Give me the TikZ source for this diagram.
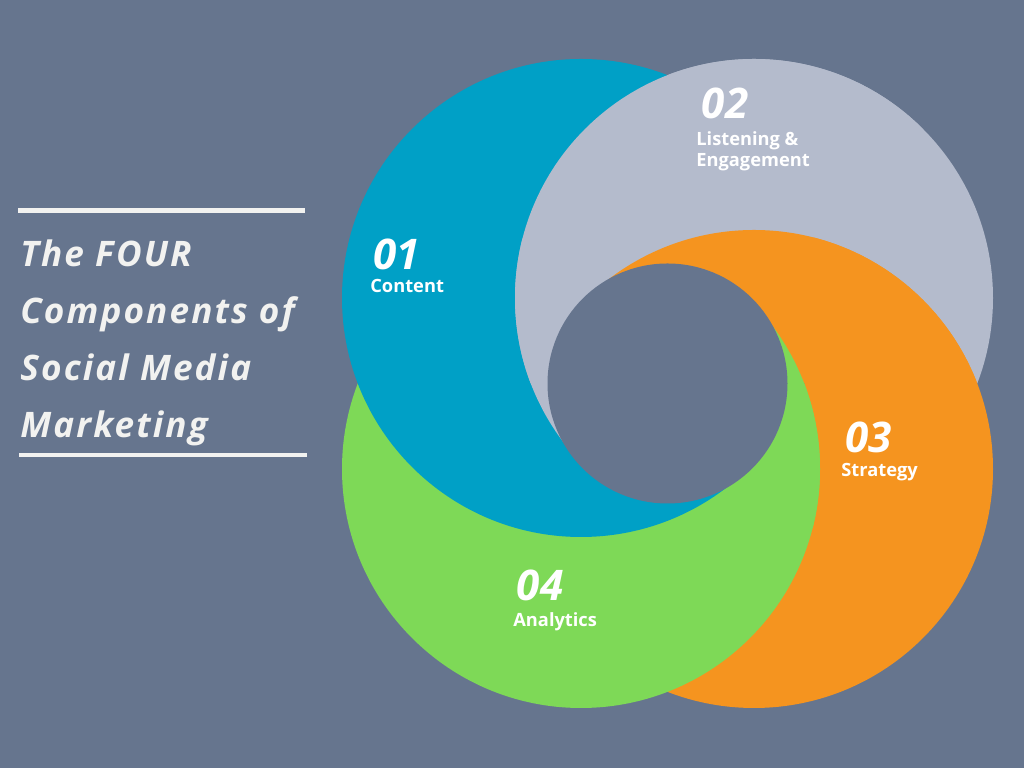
\documentclass[tikz,border=0pt]{standalone}
\usepackage{fontspec}
\setmainfont{Open Sans}
\setsansfont{Open Sans}
\newfontfamily\headfont{Open Sans}[LetterSpace=6]
\usetikzlibrary{positioning}
\definecolor{SlateBack}{HTML}{66758E}
\definecolor{RingBlue}{HTML}{00A0C6}
\definecolor{RingGray}{HTML}{B4BBCC}
\definecolor{RingOrange}{HTML}{F5941F}
\definecolor{RingGreen}{HTML}{7ED957}
\definecolor{RuleWhite}{HTML}{F2F2F0}
\tikzset{
  every node/.style={font=\sffamily, text=white, inner sep=0pt},
  headline/.style={font=\headfont\bfseries\itshape\fontsize{20}{32}\selectfont, text=RuleWhite, anchor=base west},
  numtag/.style={font=\sffamily\bfseries\itshape\fontsize{24}{26}\selectfont, anchor=base west},
  captag/.style={font=\sffamily\bfseries\fontsize{10.4}{12.5}\selectfont, anchor=base west, align=left},
  rulebar/.style={draw=RuleWhite, line width=2.5pt},
}
\newcommand{\BigR}{4.78}
\newcommand{\HoleR}{2.40}

\begin{document}
\begin{tikzpicture}[x=1cm,y=1cm]
  \useasboundingbox (0,0) rectangle (20.48,15.36);
  \fill[SlateBack] (0,0) rectangle (20.48,15.36);
  % centres of the four rings and of the hole
  \coordinate (hub) at (13.35,7.69);
  \coordinate (cblue) at (11.62,9.40);
  \coordinate (cgray) at (15.08,9.40);
  \coordinate (corange) at (15.08,5.98);
  \coordinate (cgreen) at (11.62,5.98);
  % base order (right for the lower half): gray < orange < green < blue
  \foreach \col/\ctr in {RingGray/cgray, RingOrange/corange, RingGreen/cgreen, RingBlue/cblue}
    \fill[\col] (\ctr) circle (\BigR);
  % upper half: gray over blue, orange over gray
  \begin{scope}
    \clip (hub) -- ++(-14,0) -- ++(0,14) -- ++(28,0) -- cycle;
    \fill[RingGray] (cgray) circle (\BigR);
  \end{scope}
  \begin{scope}
    \clip (hub) -- ++(-14,0) -- ++(0,14) -- ++(28,0) -- ++(0,-14) -- cycle;
    \fill[RingOrange] (corange) circle (\BigR);
  \end{scope}
  % left and right wedges next to the hole
  \begin{scope}
    \clip (hub) -- ++(-12,12) -- ++(0,-24) -- cycle;
    \fill[RingGray] (cgray) circle (\BigR);
  \end{scope}
  \begin{scope}
    \clip (hub) -- ++(12,12) -- ++(0,-24) -- cycle;
    \fill[RingGreen] (cgreen) circle (\BigR);
  \end{scope}
  \fill[SlateBack] (hub) circle (\HoleR);
  % ring labels
  \node[numtag] (num1) at (7.46,9.97) {01};
  \node[captag] (cap1) at (7.40,9.51) {Content};
  \node[numtag] (num2) at (14.03,12.98) {02};
  \node[captag] (cap2) at (13.92,12.02) {Listening \&\\Engagement};
  \node[numtag] (num3) at (16.90,6.30) {03};
  \node[captag] (cap3) at (16.82,5.83) {Strategy};
  \node[numtag] (num4) at (10.33,3.34) {04};
  \node[captag] (cap4) at (10.26,2.83) {Analytics};
  % title block
  \draw[rulebar] (0.36,11.15) -- (6.10,11.15);
  \foreach \line [count=\i] in {The FOUR, Components of, Social Media, Marketing}
    \node[headline] (title\i) at (0.40,{10.02-1.14*(\i-1)}) {\line};
  \draw[rulebar] (0.38,6.26) -- (6.14,6.26);
\end{tikzpicture}
\end{document}
